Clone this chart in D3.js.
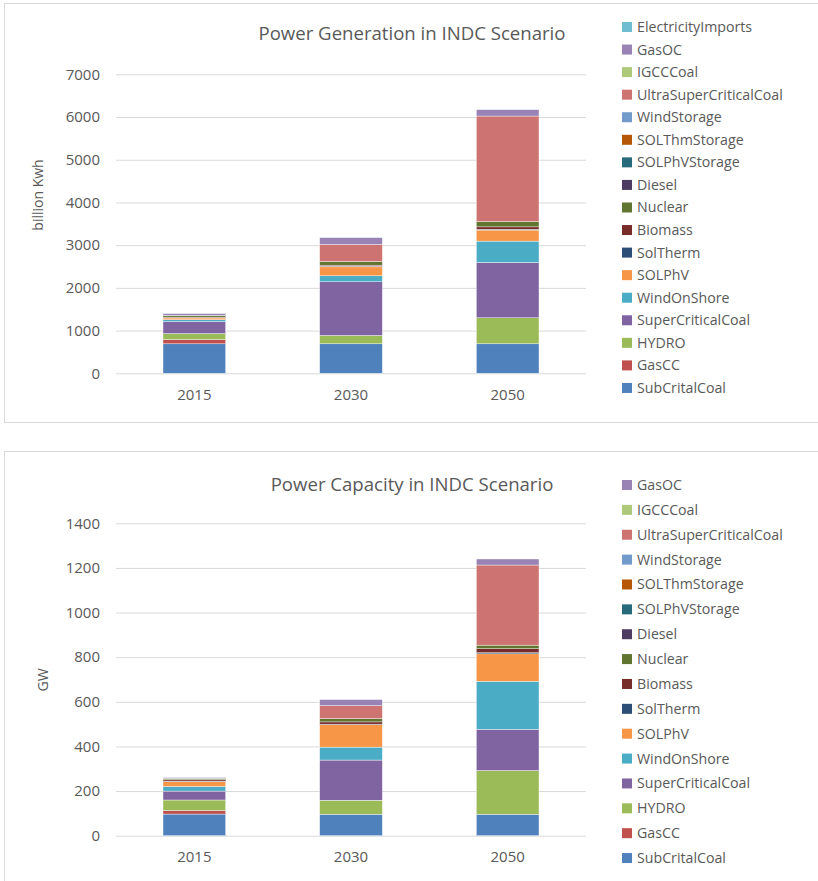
<!DOCTYPE html>
<html lang="en">
<head>
<meta charset="utf-8">
<title>INDC Scenario</title>
<script src="https://d3js.org/d3.v7.min.js"></script>
<style>
  body { margin: 0; background: #fff; }
  text { font-family: "Open Sans", sans-serif; fill: #595959; }
</style>
</head>
<body>
<div id="dev_area"></div>
<script type="text/javascript">
// categories (years) and series names, stack order bottom -> top
var years = ["2015", "2030", "2050"];
var seriesNames = ["SubCritalCoal", "GasCC", "HYDRO", "SuperCriticalCoal", "WindOnShore", "SOLPhV",
  "SolTherm", "Biomass", "Nuclear", "Diesel", "SOLPhVStorage", "SOLThmStorage", "WindStorage",
  "UltraSuperCriticalCoal", "IGCCCoal", "GasOC", "ElectricityImports"];
var seriesColors = ["#4F81BD", "#C0504D", "#9BBB59", "#8064A2", "#4BACC6", "#F79646",
  "#2C4D75", "#772C2A", "#5F7530", "#4D3B62", "#276A7C", "#B65708", "#729ACA",
  "#CD7371", "#AFC97A", "#9983B5", "#6FBDD1"];

// generation, billion kWh (one array per series, values for 2015, 2030, 2050)
var genSubCritalCoal = [690, 690, 690];
var genGasCC = [100, 0, 0];
var genHYDRO = [140, 195, 609];
var genSuperCriticalCoal = [280, 1257, 1296];
var genWindOnShore = [45, 140, 500];
var genSOLPhV = [40, 210, 258];
var genSolTherm = [5, 10, 20];
var genBiomass = [15, 30, 55];
var genNuclear = [40, 85, 125];
var genDiesel = [3, 0, 0];
var genSOLPhVStorage = [0, 0, 0];
var genSOLThmStorage = [0, 0, 0];
var genWindStorage = [0, 0, 0];
var genUltraSuperCriticalCoal = [0, 398, 2470];
var genIGCCCoal = [0, 0, 0];
var genGasOC = [45, 164, 150];
var genElectricityImports = [5, 5, 5];
var genTicks = [0, 1000, 2000, 3000, 4000, 5000, 6000, 7000];

// capacity, GW
var capSubCritalCoal = [97, 96, 96];
var capGasCC = [16, 0, 0];
var capHYDRO = [47, 63, 196];
var capSuperCriticalCoal = [40, 180, 185];
var capWindOnShore = [21, 58, 215];
var capSOLPhV = [22, 100, 123];
var capSolTherm = [2, 3, 5];
var capBiomass = [6, 10, 18];
var capNuclear = [6, 15, 16];
var capDiesel = [1, 0, 0];
var capSOLPhVStorage = [0, 0, 0];
var capSOLThmStorage = [0, 0, 0];
var capWindStorage = [0, 0, 0];
var capUltraSuperCriticalCoal = [0, 58, 359];
var capIGCCCoal = [0, 0, 0];
var capGasOC = [3, 27, 27];
var capTicks = [0, 200, 400, 600, 800, 1000, 1200, 1400];

var genSeries = [genSubCritalCoal, genGasCC, genHYDRO, genSuperCriticalCoal, genWindOnShore, genSOLPhV,
  genSolTherm, genBiomass, genNuclear, genDiesel, genSOLPhVStorage, genSOLThmStorage, genWindStorage,
  genUltraSuperCriticalCoal, genIGCCCoal, genGasOC, genElectricityImports];
var capSeries = [capSubCritalCoal, capGasCC, capHYDRO, capSuperCriticalCoal, capWindOnShore, capSOLPhV,
  capSolTherm, capBiomass, capNuclear, capDiesel, capSOLPhVStorage, capSOLThmStorage, capWindStorage,
  capUltraSuperCriticalCoal, capIGCCCoal, capGasOC];

var svg = d3.select("#dev_area").append("svg").attr("width", 818).attr("height", 881);

function drawChart(opt) {
  var g = svg.append("g").attr("transform", "translate(0," + opt.top + ")");
  g.append("rect").attr("x", 4.5).attr("y", 0.5).attr("width", 830).attr("height", opt.boxH)
    .attr("fill", "#fff").attr("stroke", "#d9d9d9");

  var names = seriesNames.slice(0, opt.series.length);
  var rows = years.map(function (yr, i) {
    var r = { year: yr };
    names.forEach(function (n, k) { r[n] = opt.series[k][i]; });
    return r;
  });
  var stacked = d3.stack().keys(names)(rows);

  var x = d3.scaleBand().domain(years).range([116, 586]).paddingInner(0.6).paddingOuter(0.3);
  var y = d3.scaleLinear().domain([0, opt.max]).range([opt.y0, opt.y1]);

  // gridlines
  g.append("g").attr("transform", "translate(116,0)")
    .call(d3.axisLeft(y).tickValues(opt.ticks).tickSize(-470).tickFormat(""))
    .call(function (a) {
      a.select(".domain").remove();
      a.selectAll("line").attr("stroke", "#d9d9d9");
    });
  // tick labels
  g.append("g").attr("transform", "translate(100,0)")
    .call(d3.axisLeft(y).tickValues(opt.ticks).tickSize(0).tickPadding(0).tickFormat(d3.format("d")))
    .call(function (a) {
      a.select(".domain").remove();
      a.selectAll("text").attr("font-size", 15).attr("font-family", "Open Sans").attr("fill", "#595959");
    });
  // x labels
  g.append("g").attr("transform", "translate(0," + opt.y0 + ")")
    .call(d3.axisBottom(x).tickSize(0).tickPadding(16))
    .call(function (a) {
      a.select(".domain").remove();
      a.selectAll("text").attr("font-size", 15).attr("font-family", "Open Sans").attr("fill", "#595959");
    });

  g.selectAll(".layer").data(stacked).enter().append("g")
    .attr("fill", function (d, i) { return seriesColors[i]; })
    .selectAll("rect").data(function (d) { return d; }).enter().append("rect")
    .attr("x", function (d) { return x(d.data.year); })
    .attr("width", x.bandwidth())
    .attr("y", function (d) { return y(d[1]); })
    .attr("height", function (d) { return y(d[0]) - y(d[1]); })
    .attr("stroke", "#fff").attr("stroke-width", 0.4);

  g.append("text").attr("x", 412).attr("y", opt.titleY).attr("text-anchor", "middle")
    .attr("font-size", 18.6).text(opt.title);
  g.append("text").attr("transform", "translate(" + opt.axisX + "," + opt.axisY + ") rotate(-90)")
    .attr("text-anchor", "middle").attr("font-size", 14).text(opt.axisTitle);

  // legend, reversed order
  var leg = names.slice().reverse();
  var lg = g.selectAll(".leg").data(leg).enter().append("g")
    .attr("transform", function (d, i) { return "translate(622," + (opt.legY + i * opt.legStep) + ")"; });
  lg.append("rect").attr("x", 0).attr("y", -5).attr("width", 10).attr("height", 10)
    .attr("fill", function (d) { return seriesColors[seriesNames.indexOf(d)]; });
  lg.append("text").attr("x", 15).attr("y", 5).attr("font-size", 14.2).text(function (d) { return d; });
}

drawChart({ top: 3, boxH: 419, series: genSeries, max: 7000, ticks: genTicks, y0: 370.3, y1: 71.3,
  title: "Power Generation in INDC Scenario", titleY: 37, axisTitle: "billion Kwh", axisX: 43, axisY: 192,
  legY: 24, legStep: 22.56 });
drawChart({ top: 451, boxH: 440, series: capSeries, max: 1400, ticks: capTicks, y0: 384.7, y1: 72.3,
  title: "Power Capacity in INDC Scenario", titleY: 40, axisTitle: "GW", axisX: 48, axisY: 229,
  legY: 34, legStep: 24.87 });
</script>
</body>
</html>
